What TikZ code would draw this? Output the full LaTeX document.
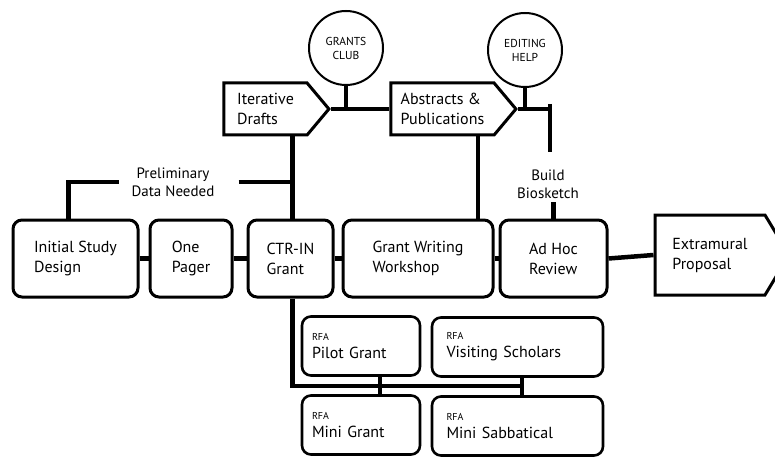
\documentclass[tikz,border=0pt]{standalone}
\usepackage{fontspec}
\setmainfont{PT Sans}
\usepackage{tikz}
\usetikzlibrary{shapes, shapes.arrows, positioning, calc}

\tikzset{
	stepbox/.style={draw, line width=3pt, rounded corners=9pt, minimum height=77pt, align=left, font=\fontsize{16}{20}\selectfont},
	flagbox/.style={draw, line width=3pt, signal, signal to=east, signal pointer angle=100, minimum height=52pt, align=left, font=\fontsize{16}{20}\selectfont},
	rfabox/.style={draw, line width=2.6pt, rounded corners=9pt, minimum height=59pt, align=left, font=\fontsize{16}{18}\selectfont},
	bubble/.style={draw, circle, line width=2pt, minimum size=74pt, inner sep=0pt, align=center, font=\fontsize{11.5}{14}\selectfont},
	note/.style={align=center, inner sep=0pt, font=\fontsize{15}{18}\selectfont},
	conn/.style={line width=4.5pt}
}
\newcommand{\rfa}{{\fontsize{10}{10}\selectfont RFA}}

\begin{document}
\begin{tikzpicture}[x=1pt, y=-1pt]
	\useasboundingbox (0,0) rectangle (775,457);
	% main row
	\node[stepbox, minimum width=125pt] (init) at (75.5,258.5) {Initial Study\\Design};
	\node[stepbox, minimum width=82pt] (one) at (191,258.5) {One\\Pager};
	\node[stepbox, minimum width=85pt] (ctr) at (290.5,258.5) {CTR-IN\\Grant};
	\node[stepbox, minimum width=150pt] (gww) at (418,258.5) {Grant Writing\\Workshop};
	\node[stepbox, minimum width=107pt] (adhoc) at (553.5,258.5) {Ad Hoc\\Review};
	\node[flagbox, minimum width=134pt, minimum height=80pt, signal pointer angle=118] (extra) at (710,255) {Extramural\\Proposal};
	% top row
	\node[flagbox, minimum width=105pt] (drafts) at (265.5,109) {Iterative\\Drafts};
	\node[flagbox, minimum width=125pt] (abs) at (442.5,109) {Abstracts \&\\Publications};
	\node[bubble] (grants) at (346,48) {GRANTS\\CLUB};
	\node[bubble] (edit) at (525,50) {EDITING\\HELP};
	\node[note] (prelim) at (173,182) {Preliminary\\Data Needed};
	\node[note, inner sep=3pt] (bio) at (548,184) {Build\\Biosketch};
	% funding boxes
	\node[rfabox, minimum width=118pt, text width=98pt] (pilot) at (361,346) {\rfa\\Pilot Grant};
	\node[rfabox, minimum width=171pt, text width=142pt] (visit) at (517.5,347) {\rfa\\Visiting Scholars};
	\node[rfabox, minimum width=118pt, text width=98pt] (minig) at (361,425) {\rfa\\Mini Grant};
	\node[rfabox, minimum width=171pt, text width=142pt] (minis) at (517.5,426) {\rfa\\Mini Sabbatical};
	\coordinate (bartop) at (550,104);
	\coordinate (barbot) at (550,152);
	\coordinate (j1) at (380,386);
	\coordinate (j2) at (522,386);

	% connectors
	\draw[conn] (init.east) -- (one.west);
	\draw[conn] (one.east) -- (ctr.west);
	\draw[conn] (ctr.east) -- (gww.west);
	\draw[conn] (gww.east) -- (adhoc.west);
	\draw[conn] (adhoc.east) -- (extra.west);
	\draw[conn] ([xshift=-7pt]init.north) |- ([xshift=-12pt]prelim.west);
	\draw[conn] ([xshift=24pt]prelim.east) -- (prelim.east -| ctr.north);
	\draw[conn] ([xshift=2pt]ctr.north) -- ([xshift=2pt]ctr.north |- drafts.south);
	\draw[conn] (drafts.east) -- (abs.west);
	\draw[conn] (grants.south) -- (grants.south |- drafts.east);
	\draw[conn] ([xshift=60pt]gww.north) -- ([xshift=60pt]gww.north |- abs.south);
	\draw[conn] (abs.east) -- (abs.east -| bartop);
	\draw[conn] (edit.south) -- (edit.south |- abs.east);
	\draw[conn] (bartop) -- (barbot);
	\draw[conn] (adhoc.north) -- (adhoc.north |- bio.south);
	\draw[conn] ([xshift=2pt]ctr.south) |- (j2);
	\draw[conn] (pilot.south -| j1) -- (minig.north -| j1);
	\draw[conn] (visit.south -| j2) -- (minis.north -| j2);
\end{tikzpicture}
\end{document}
